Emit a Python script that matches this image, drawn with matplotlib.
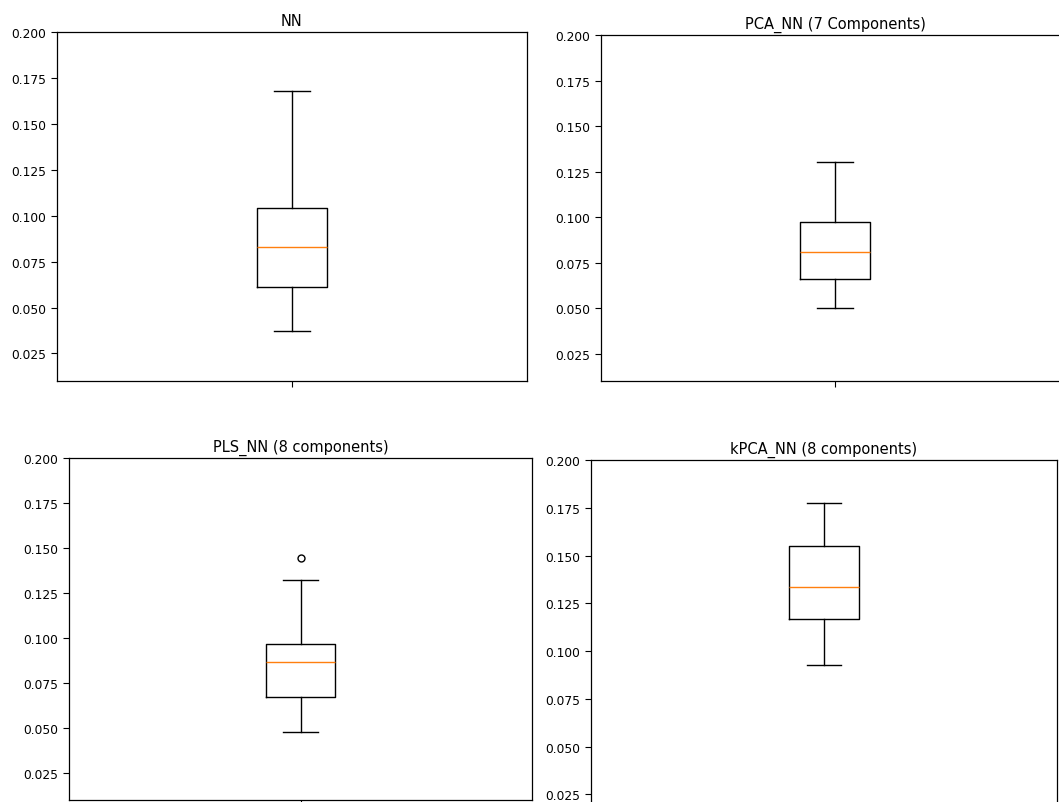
import matplotlib
matplotlib.use("Agg")
import matplotlib.pyplot as plt

# Box statistics (error values)
titles = ["NN", "PCA_NN (7 Components)", "PLS_NN (8 components)", "kPCA_NN (8 components)"]
whis_lo = [0.037, 0.050, 0.048, 0.0925]
q1 = [0.061, 0.066, 0.0675, 0.117]
med = [0.083, 0.081, 0.0865, 0.1335]
q3 = [0.104, 0.0975, 0.0965, 0.155]
whis_hi = [0.168, 0.130, 0.1325, 0.1775]
fliers = [[], [], [0.1445], []]
y_ticks = [0.025, 0.050, 0.075, 0.100, 0.125, 0.150, 0.175, 0.200]

W, H = 1059, 803
fig = plt.figure(figsize=(W / 100, H / 100), dpi=100)

# axes boxes in pixels: left, top, right, bottom (the picture is a cropped composite)
boxes = [(57, 33, 527, 382),
         (601, 36, 1069, 382),
         (69, 459, 532, 801),
         (591, 461, 1057, 824)]

for i, (l, t, r, b) in enumerate(boxes):
    ax = fig.add_axes([l / W, 1 - b / H, (r - l) / W, (b - t) / H])
    stats = [dict(med=med[i], q1=q1[i], q3=q3[i], whislo=whis_lo[i],
                  whishi=whis_hi[i], fliers=fliers[i], label='')]
    ax.bxp(stats, positions=[1], widths=0.15,
           boxprops=dict(color='black', linewidth=1.0),
           whiskerprops=dict(color='black', linewidth=1.0),
           capprops=dict(color='black', linewidth=1.0),
           medianprops=dict(color='#ff7f0e', linewidth=1.0),
           flierprops=dict(marker='o', markerfacecolor='none',
                           markeredgecolor='black', markersize=5))
    ax.set_xlim(0.5, 1.5)
    ax.set_ylim(0.01, 0.2)
    ax.set_yticks(y_ticks)
    ax.set_yticklabels([f"{v:.3f}" for v in y_ticks])
    ax.set_xticks([1])
    ax.set_xticklabels([''])
    ax.tick_params(labelsize=8.8, length=4, width=0.8)
    for s in ax.spines.values():
        s.set_linewidth(0.9)
    ax.set_title(titles[i], fontsize=10.5, pad=5)

fig.savefig("out.png", dpi=100)
